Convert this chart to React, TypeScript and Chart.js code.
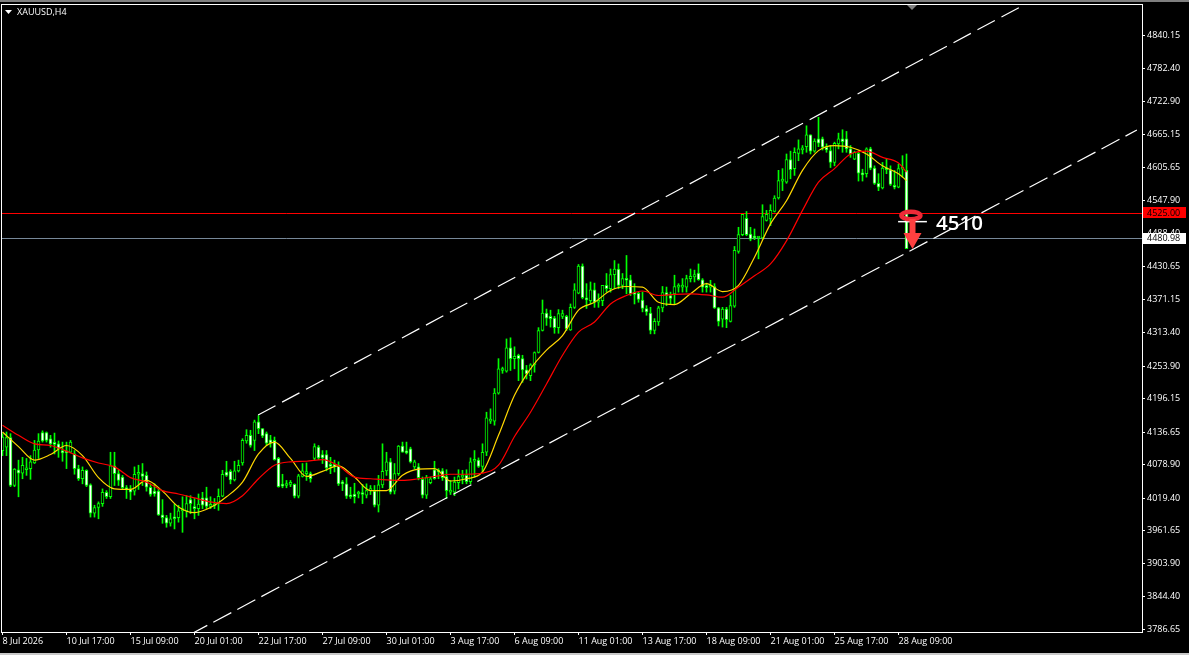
import React, { useEffect, useRef } from "react";
import { Chart, registerables } from "chart.js";

Chart.register(...registerables);

const opens = [
  4104,4110,4127,4042,4070,4064,4070,4072,4082,4105,
  4136,4136,4125,4116,4116,4104,4101,4101,4098,4072,
  4054,4069,4043,3993,4003,4010,4030,4022,4077,4063,
  4057,4036,4036,4032,4062,4063,4060,4039,4032,4032,
  3990,3985,3975,3986,3985,3997,3997,4017,4003,4001,
  4020,4020,4005,4006,4010,4023,4066,4067,4052,4068,
  4082,4121,4131,4122,4155,4143,4134,4123,4122,4090,
  4043,4042,4044,4044,4023,4058,4063,4063,4090,4110,
  4097,4097,4078,4079,4076,4046,4045,4024,4027,4027,
  4027,4025,4033,4032,4007,4043,4068,4084,4032,4063,
  4112,4103,4107,4075,4075,4053,4025,4047,4070,4068,
  4068,4058,4030,4030,4047,4057,4060,4049,4085,4087,
  4076,4101,4156,4156,4206,4246,4245,4286,4267,4273,
  4267,4247,4237,4256,4278,4317,4348,4342,4339,4322,
  4342,4342,4318,4358,4383,4431,4375,4370,4389,4367,
  4370,4397,4391,4416,4426,4397,4409,4407,4383,4383,
  4371,4356,4348,4317,4332,4357,4384,4379,4382,4394,
  4394,4394,4409,4412,4419,4407,4396,4394,4395,4357,
  4337,4355,4333,4360,4457,4487,4516,4488,4482,4481,
  4481,4512,4515,4528,4552,4582,4580,4620,4604,4631,
  4637,4643,4664,4635,4657,4657,4642,4636,4615,4648,
  4657,4657,4639,4621,4631,4596,4595,4639,4605,4578,
  4570,4605,4602,4574,4571,4603,4601,
];
const closes = [
  4128,4127,4042,4071,4064,4078,4072,4084,4105,4121,
  4121,4122,4116,4115,4107,4100,4100,4119,4072,4054,
  4069,4042,3993,4003,4010,4030,4022,4077,4063,4051,
  4038,4035,4030,4062,4064,4058,4039,4026,4027,3990,
  3985,3975,3983,3983,3997,4001,4010,4010,4001,4009,
  4007,4005,4007,4009,4023,4062,4060,4052,4068,4078,
  4122,4131,4113,4155,4143,4130,4117,4117,4088,4040,
  4041,4045,4047,4023,4059,4068,4066,4054,4111,4091,
  4091,4073,4076,4076,4045,4045,4023,4022,4022,4029,
  4026,4033,4035,4007,4043,4067,4084,4030,4063,4112,
  4101,4100,4084,4084,4056,4025,4056,4054,4054,4066,
  4056,4033,4034,4048,4058,4060,4049,4084,4087,4076,
  4101,4162,4160,4206,4249,4249,4286,4267,4271,4267,
  4247,4240,4256,4278,4317,4348,4339,4338,4322,4347,
  4347,4320,4358,4389,4431,4375,4371,4389,4367,4369,
  4397,4391,4416,4426,4397,4409,4406,4382,4381,4372,
  4356,4350,4317,4333,4357,4384,4379,4374,4395,4396,
  4395,4409,4413,4416,4407,4394,4393,4396,4357,4333,
  4355,4336,4361,4459,4487,4523,4487,4479,4481,4482,
  4519,4523,4530,4552,4583,4583,4620,4602,4633,4639,
  4641,4664,4635,4653,4649,4642,4637,4615,4649,4657,
  4652,4639,4630,4633,4596,4593,4639,4605,4578,4571,
  4605,4602,4576,4571,4604,4605,4462,
];
const highs = [
  4134,4137,4134,4072,4087,4092,4090,4095,4122,4134,
  4139,4137,4131,4135,4121,4119,4119,4122,4104,4078,
  4075,4070,4045,4007,4013,4036,4033,4101,4101,4069,
  4060,4042,4042,4075,4078,4081,4066,4045,4045,4036,
  4017,3989,3993,4009,4007,4022,4024,4024,4019,4027,
  4030,4039,4022,4019,4036,4069,4085,4070,4085,4087,
  4125,4141,4140,4158,4166,4143,4137,4131,4128,4092,
  4062,4051,4051,4045,4062,4081,4082,4066,4116,4113,
  4104,4104,4092,4087,4084,4051,4056,4039,4046,4032,
  4044,4045,4042,4042,4060,4116,4101,4090,4081,4113,
  4119,4119,4110,4087,4081,4057,4060,4057,4085,4072,
  4072,4070,4051,4057,4070,4069,4070,4091,4104,4091,
  4116,4172,4178,4214,4267,4252,4302,4304,4288,4275,
  4273,4255,4258,4279,4322,4371,4355,4353,4342,4354,
  4353,4344,4364,4400,4434,4435,4400,4403,4401,4382,
  4397,4418,4426,4441,4435,4418,4450,4415,4400,4385,
  4385,4361,4358,4338,4360,4395,4394,4385,4415,4400,
  4409,4415,4426,4424,4435,4409,4401,4406,4400,4358,
  4358,4358,4379,4466,4500,4523,4528,4500,4497,4482,
  4540,4530,4540,4556,4601,4604,4630,4635,4641,4655,
  4645,4680,4664,4657,4695,4660,4648,4645,4651,4667,
  4673,4670,4645,4635,4633,4603,4641,4642,4609,4595,
  4615,4621,4609,4601,4612,4627,4630,
];
const lows = [
  4095,4095,4040,4040,4022,4054,4060,4053,4081,4090,
  4119,4119,4110,4098,4092,4085,4072,4100,4062,4051,
  4045,4040,3986,3986,3983,4005,4019,4019,4042,4042,
  4035,4019,4017,4025,4035,4042,4032,4023,4023,3989,
  3975,3968,3970,3965,3977,3959,3986,3992,3983,3989,
  4001,4001,4001,4001,3998,4022,4058,4045,4050,4066,
  4078,4117,4110,4104,4134,4127,4113,4110,4087,4039,
  4038,4038,4040,4020,4020,4057,4051,4048,4087,4088,
  4081,4068,4063,4066,4042,4033,4019,4019,4011,4020,
  4010,4020,4026,4004,3995,4038,4060,4027,4027,4060,
  4101,4098,4082,4072,4052,4020,4019,4045,4053,4054,
  4051,4019,4026,4024,4036,4045,4045,4045,4057,4074,
  4066,4095,4152,4149,4204,4241,4243,4246,4249,4228,
  4225,4231,4228,4243,4277,4316,4326,4323,4312,4312,
  4338,4317,4317,4356,4382,4373,4356,4364,4358,4358,
  4361,4385,4385,4391,4391,4391,4382,4379,4364,4367,
  4350,4344,4311,4311,4326,4350,4361,4364,4364,4385,
  4385,4385,4403,4403,4406,4385,4385,4385,4356,4325,
  4323,4322,4332,4358,4454,4485,4485,4476,4478,4444,
  4479,4511,4503,4527,4550,4565,4578,4586,4592,4618,
  4630,4633,4630,4633,4643,4637,4633,4606,4609,4639,
  4633,4633,4624,4620,4582,4582,4589,4602,4576,4565,
  4568,4595,4574,4568,4570,4589,4462,
];

const maIndex = [
  0,4,8,12,16,20,24,28,32,36,40,44,48,52,56,60,64,68,72,76,80,84,88,92,96,100,104,108,112,116,
  120,124,128,132,136,140,144,148,152,156,160,164,168,172,176,180,184,188,192,196,200,204,208,212,216,220,224,226,
];
const maFast = [
  4137,4111,4087,4097,4113,4095,4056,4036,4035,4051,
  4032,4004,3994,4003,4022,4048,4098,4119,4090,4058,
  4067,4077,4057,4033,4033,4060,4071,4072,4050,4054,
  4066,4131,4202,4249,4282,4308,4353,4367,4388,4395,
  4394,4367,4363,4382,4400,4386,4397,4447,4506,4547,
  4601,4636,4645,4642,4630,4609,4595,4583,
];
const maSlow = [
  4149,4131,4116,4113,4103,4091,4082,4075,4056,4048,
  4033,4027,4020,4013,4010,4024,4054,4078,4084,4085,
  4088,4077,4057,4054,4052,4051,4054,4058,4062,4062,
  4064,4078,4129,4172,4222,4273,4314,4332,4364,4379,
  4387,4379,4381,4382,4380,4376,4394,4414,4435,4476,
  4530,4580,4604,4630,4635,4624,4614,4598,
];

const xTickIndex = [0,16,32,48,64,80,96,112,128,144,160,176,192,208,224];
const xTickLabels = [
  "8 Jul 2026","10 Jul 17:00","15 Jul 09:00","20 Jul 01:00","22 Jul 17:00","27 Jul 09:00",
  "30 Jul 01:00","3 Aug 17:00","6 Aug 09:00","11 Aug 01:00","13 Aug 17:00","18 Aug 09:00",
  "21 Aug 01:00","25 Aug 17:00","28 Aug 09:00",
];
const yTickValues = [
  4840.15,4782.40,4722.90,4665.15,4605.65,4547.90,4488.40,4430.65,4371.15,4313.40,
  4253.90,4196.15,4136.65,4078.90,4019.40,3961.65,3903.90,3844.40,3786.65,
];

const channelUpperX = [63.9, 254.4];
const channelUpperY = [4167.1, 4890.7];
const channelLowerX = [46.7, 283.6];
const channelLowerY = [3776.9, 4672.5];

const levelRed = 4525.0;
const levelBid = 4480.98;
const targetLevel = 4510;
const targetDashX = [223.9, 231.1];
const markerIndex = 227.1;
const markerPrice = 4521;
const arrowIndex = 227.5;
const arrowTopPrice = 4514.7;
const arrowNeckPrice = 4489.9;
const arrowTipPrice = 4461.5;
const labelIndex = 233.4;
const labelPrice = 4506;

const X_MIN = -0.375;
const X_MAX = 284.875;
const Y_MIN = 3782.2;
const Y_MAX = 4896.02;
const FONT = '"Open Sans", sans-serif';
const GREEN = "#00ff00";

const overlay = {
  id: "overlay",
  beforeDraw(chart: any) {
    const c = chart.ctx;
    c.save();
    c.fillStyle = "#000";
    c.fillRect(0, 0, chart.width, chart.height);
    c.restore();
  },
  beforeDatasetsDraw(chart: any) {
    const c = chart.ctx;
    const a = chart.chartArea;
    const y = chart.scales.y;
    c.save();
    c.lineWidth = 1;
    const level = (v: number, color: string) => {
      const p = Math.floor(y.getPixelForValue(v)) + 0.5;
      c.strokeStyle = color;
      c.beginPath();
      c.moveTo(a.left, p);
      c.lineTo(a.right, p);
      c.stroke();
    };
    level(levelRed, "#ff0000");
    level(levelBid, "#778899");
    c.restore();
  },
  afterDraw(chart: any) {
    const c = chart.ctx;
    const a = chart.chartArea;
    const x = chart.scales.x;
    const y = chart.scales.y;
    c.save();
    c.strokeStyle = "#fff";
    c.lineWidth = 1;
    c.strokeRect(a.left + 0.5, a.top + 0.5, a.right - a.left, a.bottom - a.top);

    // red ring
    c.strokeStyle = "#ee2a38";
    c.lineWidth = 4.5;
    c.beginPath();
    c.ellipse(x.getPixelForValue(markerIndex), y.getPixelForValue(markerPrice), 9.5, 3.8, 0, 0, Math.PI * 2);
    c.stroke();

    // red arrow
    const ax = x.getPixelForValue(arrowIndex);
    c.strokeStyle = "#ff4040";
    c.lineWidth = 6;
    c.beginPath();
    c.moveTo(ax, y.getPixelForValue(arrowTopPrice));
    c.lineTo(ax, y.getPixelForValue(arrowNeckPrice));
    c.stroke();
    c.fillStyle = "#ff4040";
    c.beginPath();
    c.moveTo(ax - 9, y.getPixelForValue(arrowNeckPrice));
    c.lineTo(ax + 9, y.getPixelForValue(arrowNeckPrice));
    c.lineTo(ax, y.getPixelForValue(arrowTipPrice));
    c.closePath();
    c.fill();

    // annotation text
    c.fillStyle = "#fff";
    c.font = '600 20.5px "Open Sans", sans-serif';
    c.textAlign = "left";
    c.textBaseline = "middle";
    c.fillText(String(targetLevel), x.getPixelForValue(labelIndex), y.getPixelForValue(labelPrice));

    // price boxes
    c.font = `9px ${FONT}`;
    const ry = Math.floor(y.getPixelForValue(levelRed));
    c.fillStyle = "#ff0000";
    c.fillRect(a.right + 1, ry - 6, 43, 11);
    c.fillStyle = "#000";
    c.fillText(levelRed.toFixed(2), a.right + 5, ry);
    const by = Math.floor(y.getPixelForValue(levelBid));
    c.fillStyle = "#fff";
    c.fillRect(a.right + 1, by - 5, 43, 11);
    c.fillStyle = "#000";
    c.fillText(levelBid.toFixed(2), a.right + 5, by);

    // symbol caption
    c.fillStyle = "#fff";
    c.font = `9px ${FONT}`;
    c.fillText("XAUUSD,H4", 17, 12.5);
    c.beginPath();
    c.moveTo(5, 10);
    c.lineTo(12, 10);
    c.lineTo(8.5, 14);
    c.closePath();
    c.fill();

    // marker at the top edge
    c.fillStyle = "#808080";
    c.beginPath();
    c.moveTo(907, 5);
    c.lineTo(917, 5);
    c.lineTo(912, 10);
    c.closePath();
    c.fill();

    // window edges
    c.fillStyle = "#7f7f7f";
    c.fillRect(0, 0, chart.width, 2);
    c.fillStyle = "#c8c8c8";
    c.fillRect(0, chart.height - 2, chart.width, 2);
    c.restore();
  },
};

export default function App() {
  const ref = useRef<HTMLCanvasElement>(null);
  useEffect(() => {
    const idx = opens.map((_, i) => i);
    const line = (xs: number[], ys: number[], color: string, width: number, order: number, dash: number[] = [], smooth = false) => ({
      type: "line" as const,
      data: xs.map((v, i) => ({ x: v, y: ys[i] })),
      borderColor: color,
      borderWidth: width,
      borderDash: dash,
      pointRadius: 0,
      tension: 0,
      cubicInterpolationMode: smooth ? ("monotone" as const) : ("default" as const),
      order,
    });
    const chart = new Chart(ref.current as HTMLCanvasElement, {
      type: "bar",
      data: {
        datasets: [
          {
            data: idx.map((i) => ({ x: i, y: [lows[i], highs[i]] })),
            backgroundColor: GREEN,
            barThickness: 1,
            grouped: false,
            order: 6,
          },
          {
            data: idx.map((i) => ({ x: i, y: [opens[i], closes[i]] })),
            backgroundColor: idx.map((i) => (closes[i] < opens[i] ? "#ffffff" : "#000000")),
            borderColor: GREEN,
            borderWidth: 1,
            borderSkipped: false,
            barThickness: 3,
            minBarLength: 2,
            grouped: false,
            order: 5,
          },
          line(maIndex, maFast, "#ffd700", 1.2, 3, [], true) as any,
          line(maIndex, maSlow, "#ff0000", 1.2, 2, [], true) as any,
          line(channelUpperX, channelUpperY, "#ffffff", 1.2, 1, [19.7, 7.5]) as any,
          line(channelLowerX, channelLowerY, "#ffffff", 1.2, 1, [20.4, 6.8]) as any,
          line(targetDashX, [targetLevel, targetLevel], "#ffffff", 1.5, 0) as any,
        ],
      },
      options: {
        responsive: false,
        animation: false,
        maintainAspectRatio: false,
        layout: { padding: { left: 1, top: 4, right: 0, bottom: 0 } },
        plugins: { legend: { display: false }, tooltip: { enabled: false } },
        scales: {
          x: {
            type: "linear",
            min: X_MIN,
            max: X_MAX,
            offset: false,
            afterBuildTicks(s: any) {
              s.ticks = xTickIndex.map((value) => ({ value }));
            },
            afterFit(s: any) {
              s.height = 23;
              s.paddingLeft = 0;
              s.paddingRight = 0;
            },
            grid: { display: true, offset: false, drawOnChartArea: false, drawTicks: true, tickLength: 3, tickColor: "#fff" },
            border: { display: false },
            ticks: {
              autoSkip: false,
              maxRotation: 0,
              align: "start",
              padding: 1,
              color: "#fff",
              font: { family: FONT, size: 9 },
              callback: (_v: any, i: number) => xTickLabels[i],
            },
          },
          y: {
            type: "linear",
            position: "right",
            min: Y_MIN,
            max: Y_MAX,
            afterBuildTicks(s: any) {
              s.ticks = yTickValues.map((value) => ({ value }));
            },
            afterFit(s: any) {
              s.width = 47;
              s.paddingTop = 0;
              s.paddingBottom = 0;
            },
            grid: { display: true, drawOnChartArea: false, drawTicks: true, tickLength: 3, tickColor: "#fff" },
            border: { display: false },
            ticks: {
              autoSkip: false,
              padding: 2,
              color: "#fff",
              font: { family: FONT, size: 9 },
              callback: (v: any) => Number(v).toFixed(2),
            },
          },
        },
      } as any,
      plugins: [overlay],
    } as any);
    return () => chart.destroy();
  }, []);
  return (
    <div style={{ position: "fixed", left: 0, top: 0, width: 1189, height: 655, background: "#000", overflow: "hidden" }}>
      <canvas ref={ref} width={1189} height={655} style={{ display: "block" }} />
    </div>
  );
}
